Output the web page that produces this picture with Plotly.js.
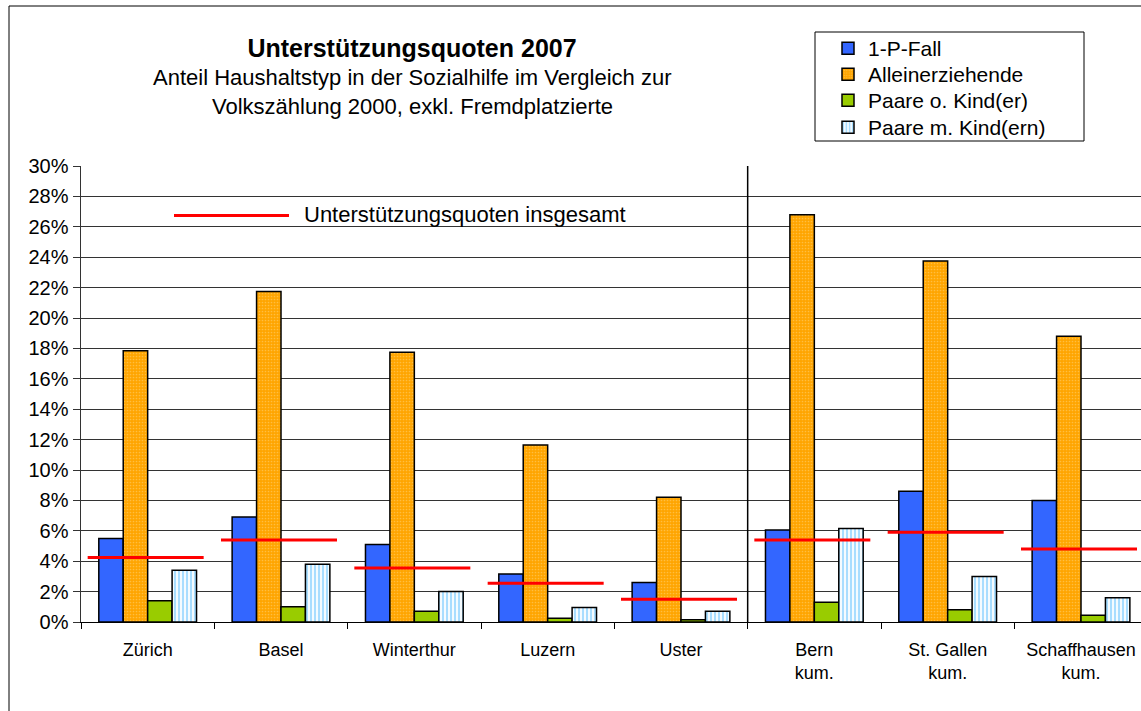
<!DOCTYPE html>
<html><head><meta charset="utf-8">
<script src="https://cdn.plot.ly/plotly-3.0.1.min.js"></script>
<style>html,body{margin:0;padding:0;background:#fff}#chart{width:1141px;height:711px}</style>
</head><body><div id="chart"></div>
<script>
// ---- data ----
const categories = ['Zürich','Basel','Winterthur','Luzern','Uster','Bern<br>kum.','St. Gallen<br>kum.','Schaffhausen<br>kum.'];
const einPersonFall   = [5.5, 6.9, 5.1, 3.15, 2.6, 6.05, 8.6, 8.0];
const alleinerziehend = [17.85, 21.75, 17.75, 11.65, 8.2, 26.8, 23.75, 18.8];
const paareOhneKind   = [1.4, 1.0, 0.7, 0.25, 0.15, 1.3, 0.8, 0.45];
const paareMitKind    = [3.4, 3.8, 2.0, 0.95, 0.7, 6.15, 3.0, 1.6];
const quoteInsgesamt  = [4.25, 5.4, 3.55, 2.55, 1.5, 5.4, 5.9, 4.8];
const seriesNames = ['1-P-Fall','Alleinerziehende','Paare o. Kind(er)','Paare m. Kind(ern)'];
const totalLabel = 'Unterstützungsquoten insgesamt';
const yTickVals = [0,2,4,6,8,10,12,14,16,18,20,22,24,26,28,30];
const yTickText = yTickVals.map(v => v + '%');

// ---- layout helpers (pixel -> paper) ----
const L = 81, R = 1141, T = 166, B = 622;
const px = v => (v - L) / (R - L);
const py = v => (B - v) / (B - T);
const idx = categories.map((c, i) => i);

const FONT = 'Liberation Sans, Arial, sans-serif';
const outline = {color: '#000', width: 1.5};

const traces = [
  {type: 'bar', name: seriesNames[0], x: idx, y: einPersonFall, legend: 'legend',
   marker: {color: '#3366FF', line: outline}},
  {type: 'bar', name: seriesNames[1], x: idx, y: alleinerziehend, legend: 'legend2',
   marker: {color: '#FFA500', line: outline,
            pattern: {shape: '.', fgcolor: '#FFBE40', bgcolor: '#FFA500', size: 3, solidity: 0.25}}},
  {type: 'bar', name: seriesNames[2], x: idx, y: paareOhneKind, legend: 'legend3',
   marker: {color: '#99CC00', line: outline}},
  {type: 'bar', name: seriesNames[3], x: idx, y: paareMitKind, legend: 'legend4',
   marker: {color: '#CCEEFF', line: outline,
            pattern: {shape: '|', fgcolor: '#A8DDFF', bgcolor: '#F4FBFF', size: 4, solidity: 0.5}}}
];

// red total lines: one segment per category
const lx = [], ly = [];
quoteInsgesamt.forEach((v, i) => { lx.push(i - 0.45, i + 0.42, null); ly.push(v, v, null); });
traces.push({type: 'scatter', mode: 'lines', x: lx, y: ly, name: totalLabel, showlegend: false,
             line: {color: '#FF0000', width: 3}, hoverinfo: 'skip'});

const legendAt = topPx => ({x: px(828), xanchor: 'left', y: py(topPx), yanchor: 'top',
  bgcolor: 'rgba(0,0,0,0)', borderwidth: 0, font: {family: FONT, size: 21, color: '#000'}});

const layout = {
  width: 1141, height: 711,
  margin: {l: L, r: 1141 - R, t: T, b: 711 - B, pad: 0},
  paper_bgcolor: '#fff', plot_bgcolor: '#fff',
  font: {family: FONT, color: '#000', size: 18},
  title: {text: '<b>Unterstützungsquoten 2007</b>', font: {family: FONT, size: 25, color: '#000'},
          xref: 'container', yref: 'container', x: 412 / 1141, xanchor: 'center', y: 1 - 48 / 711, yanchor: 'middle'},
  barmode: 'group', bargap: 0.267, bargroupgap: 0,
  showlegend: true,
  legend: legendAt(28), legend2: legendAt(54), legend3: legendAt(80), legend4: legendAt(107),
  xaxis: {type: 'linear', range: [-0.5, 7.45], tickmode: 'array', tickvals: idx, ticktext: categories,
          ticks: '', showgrid: false, zeroline: false, showline: true, linecolor: '#000', linewidth: 1,
          tickfont: {family: FONT, size: 18, color: '#000'}, ticklabelstandoff: 11,
          minor: {tickmode: 'array', tickvals: idx.map(i => i - 0.5).concat([categories.length - 0.5]),
                  ticks: 'outside', ticklen: 6, tickcolor: '#000', tickwidth: 1, showgrid: false},
          fixedrange: true},
  yaxis: {range: [0, 30], tickmode: 'array', tickvals: yTickVals, ticktext: yTickText,
          showgrid: true, gridcolor: '#333', gridwidth: 1, zeroline: false,
          showline: true, linecolor: '#333', linewidth: 1.5,
          ticks: 'outside', ticklen: 7, tickcolor: '#333', tickwidth: 1,
          tickfont: {family: FONT, size: 20, color: '#000'}, fixedrange: true},
  shapes: [
    // outer frame
    {type: 'rect', xref: 'paper', yref: 'paper', x0: px(9), x1: px(1160), y0: py(730), y1: py(6),
     line: {color: '#000', width: 1}, fillcolor: 'rgba(0,0,0,0)', layer: 'below'},
    // legend box
    {type: 'rect', xref: 'paper', yref: 'paper', x0: px(815), x1: px(1084), y0: py(141), y1: py(32),
     line: {color: '#000', width: 1}, fillcolor: '#fff', layer: 'below'},
    // divider between cities and cantons
    {type: 'line', xref: 'x', yref: 'paper', x0: 4.5, x1: 4.5, y0: 0, y1: 1, line: {color: '#000', width: 1.5}},
    // key for the red line
    {type: 'line', xref: 'paper', yref: 'paper', x0: px(174), x1: px(289), y0: py(215.5), y1: py(215.5),
     line: {color: '#FF0000', width: 3}}
  ],
  annotations: [
    {text: 'Anteil Haushaltstyp in der Sozialhilfe im Vergleich zur', xref: 'paper', yref: 'paper',
     x: px(412), y: py(77), xanchor: 'center', yanchor: 'middle', showarrow: false, font: {family: FONT, size: 22}},
    {text: 'Volkszählung 2000, exkl. Fremdplatzierte', xref: 'paper', yref: 'paper',
     x: px(412), y: py(106), xanchor: 'center', yanchor: 'middle', showarrow: false, font: {family: FONT, size: 22}},
    {text: totalLabel, xref: 'paper', yref: 'paper', x: px(302), y: py(215), xanchor: 'left', yanchor: 'middle',
     showarrow: false, font: {family: FONT, size: 22}}
  ]
};

Plotly.newPlot('chart', traces, layout, {displayModeBar: false, staticPlot: true});
</script></body></html>
